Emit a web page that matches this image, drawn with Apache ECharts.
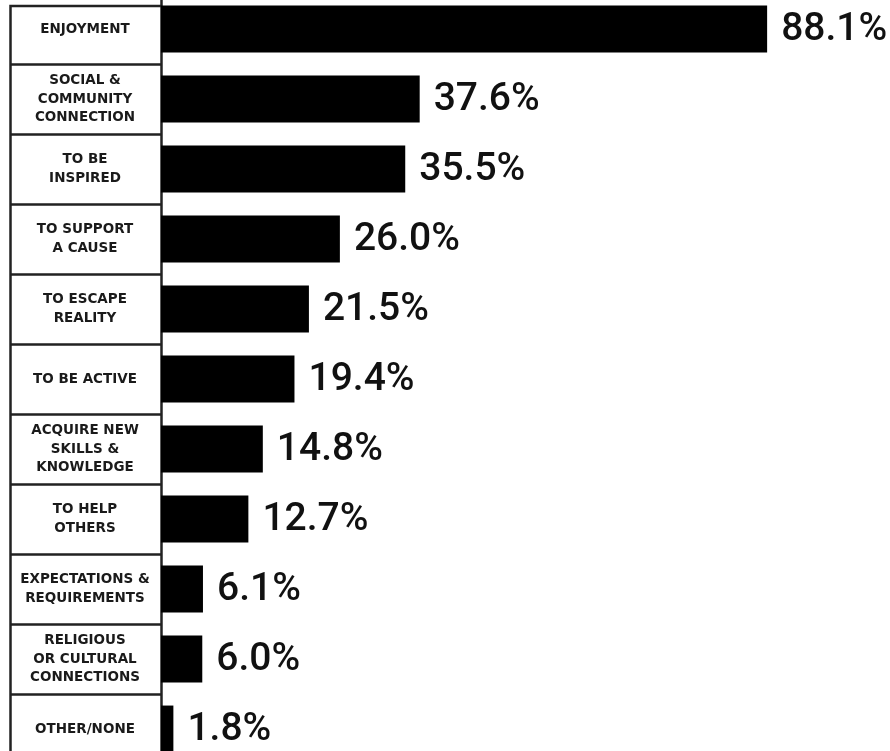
<!DOCTYPE html>
<html>
<head>
<meta charset="utf-8">
<script src="https://cdn.jsdelivr.net/npm/echarts@6/dist/echarts.min.js"></script>
<style>
  html, body { margin: 0; padding: 0; background: #fff; }
  #chart { width: 890px; height: 751px; }
</style>
</head>
<body>
<div id="chart"></div>
<script>
// Reasons for taking part, share of respondents (%)
const categories = [
  'ENJOYMENT',
  'SOCIAL &\nCOMMUNITY\nCONNECTION',
  'TO BE\nINSPIRED',
  'TO SUPPORT\nA CAUSE',
  'TO ESCAPE\nREALITY',
  'TO BE ACTIVE',
  'ACQUIRE NEW\nSKILLS &\nKNOWLEDGE',
  'TO HELP\nOTHERS',
  'EXPECTATIONS &\nREQUIREMENTS',
  'RELIGIOUS\nOR CULTURAL\nCONNECTIONS',
  'OTHER/NONE'
];
const shares = [88.1, 37.6, 35.5, 26.0, 21.5, 19.4, 14.8, 12.7, 6.1, 6.0, 1.8];

const ink = '#222';
const chart = echarts.init(document.getElementById('chart'), null, { renderer: 'canvas' });

chart.setOption({
  animation: false,
  backgroundColor: '#fff',
  grid: {
    left: 161, right: 41, top: -6, height: 770,
    containLabel: false,
    outerBoundsMode: 'none'
  },
  xAxis: {
    type: 'value',
    min: 0,
    max: 100,
    show: false
  },
  yAxis: {
    type: 'category',
    data: categories,
    inverse: true,
    axisLine: { show: true, lineStyle: { color: ink, width: 2.5 } },
    axisTick: {
      show: true,
      alignWithLabel: false,
      length: 150,
      lineStyle: { color: ink, width: 2.5 }
    },
    axisLabel: {
      align: 'center',
      margin: 76,
      color: '#1a1a1a',
      fontFamily: 'DejaVu Sans',
      fontWeight: 'bold',
      fontSize: 13.5,
      lineHeight: 18.5
    }
  },
  // frame closing the label column on the left and top
  graphic: [{
    type: 'polyline',
    shape: { points: [[10.5, 760], [10.5, 6], [161, 6]] },
    style: { stroke: ink, lineWidth: 2.5, fill: null },
    z: 10
  }],
  series: [{
    type: 'bar',
    data: shares,
    barCategoryGap: '33%',
    itemStyle: { color: '#000' },
    label: {
      show: true,
      position: 'right',
      distance: 14,
      offset: [0, 1],
      color: '#111',
      fontFamily: 'Roboto',
      fontWeight: 500,
      fontSize: 39,
      formatter: p => p.value.toFixed(1) + '%'
    }
  }]
});
</script>
</body>
</html>
